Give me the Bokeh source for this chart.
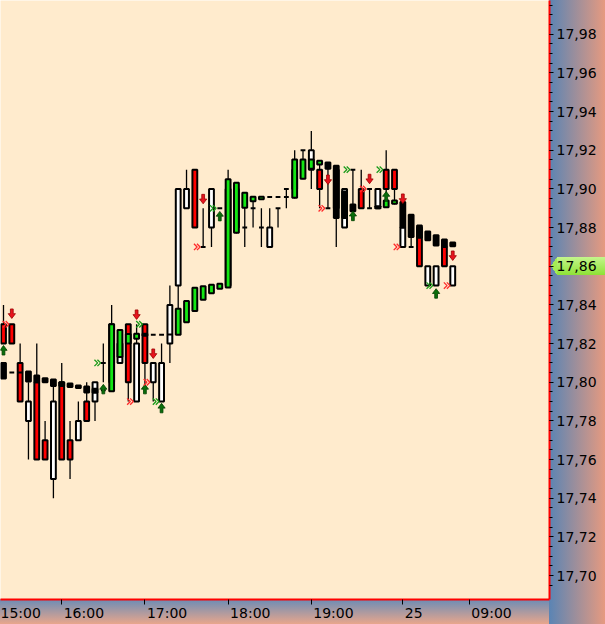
import numpy as np
from bokeh.plotting import figure
from bokeh.models import Range1d, FixedTicker, ColumnDataSource, LinearAxis
from bokeh.embed import file_html
from bokeh.resources import INLINE

# ---------------- data (6-minute bars, index 0 = 16:00) ----------------
bar_index = list(range(-7, 48))
candle_open = [17.83, 17.83, 17.81, 17.78, 17.80, 17.77, 17.75, 17.80, 17.77, 17.77,
               17.79, 17.79, 17.81, 17.80, 17.81, 17.83, 17.79, 17.83, 17.80, 17.79,
               17.82, 17.85, 17.89, 17.91, 17.87, 17.88, 17.89, 17.85, 17.88, 17.88,
               17.89, 17.88, 17.87, 17.89, 17.90, 17.90, 17.92, 17.91, 17.91, 17.89,
               17.91, 17.88, 17.91, 17.90, 17.90, 17.89, 17.91, 17.91, 17.87, 17.87,
               17.88, 17.85, 17.85, 17.87, 17.85]
candle_close = [17.82, 17.82, 17.79, 17.79, 17.76, 17.76, 17.79, 17.76, 17.76, 17.78,
                17.78, 17.80, 17.81, 17.83, 17.82, 17.80, 17.82, 17.81, 17.81, 17.81,
                17.84, 17.90, 17.90, 17.88, 17.87, 17.90, 17.89, 17.90, 17.90, 17.88,
                17.89, 17.88, 17.88, 17.89, 17.90, 17.91, 17.92, 17.92, 17.90, 17.89,
                17.89, 17.90, 17.91, 17.89, 17.90, 17.90, 17.90, 17.90, 17.88, 17.87,
                17.86, 17.86, 17.86, 17.86, 17.86]
wick_high = [17.84, 17.83, 17.82, 17.80, 17.82, 17.78, 17.798, 17.81, 17.78, 17.79,
             17.80, 17.80, 17.82, 17.84, 17.827, 17.83, 17.83, 17.83, 17.81, 17.82,
             17.85, 17.90, 17.91, 17.91, 17.89, 17.90, 17.89, 17.91, 17.903, 17.898,
             17.896, 17.89, 17.89, 17.89, 17.90, 17.92, 17.92, 17.93, 17.915, 17.914,
             17.912, 17.90, 17.91, 17.91, 17.90, 17.90, 17.92, 17.91, 17.893, 17.887,
             17.881, 17.86, 17.86, 17.87, 17.86]
wick_low = [17.82, 17.82, 17.79, 17.76, 17.76, 17.76, 17.74, 17.76, 17.75, 17.77,
            17.78, 17.78, 17.80, 17.795, 17.81, 17.79, 17.79, 17.799, 17.79, 17.79,
            17.81, 17.825, 17.89, 17.88, 17.87, 17.87, 17.89, 17.849, 17.877, 17.87,
            17.88, 17.87, 17.87, 17.88, 17.89, 17.895, 17.905, 17.90, 17.89, 17.89,
            17.87, 17.88, 17.889, 17.89, 17.89, 17.89, 17.891, 17.892, 17.87, 17.87,
            17.86, 17.85, 17.85, 17.86, 17.85]
ha_open = [17.8100, 17.8050, 17.8050, 17.8056, 17.8035, 17.8021, 17.8014, 17.8000, 17.7994, 17.7983,
           17.7978, 17.7966, 17.7958, 17.7954, 17.8130, 17.8200, 17.8225, 17.8240, 17.8246, 17.8246,
           17.8247, 17.8246, 17.8311, 17.8368, 17.8427, 17.8461, 17.8484, 17.8490, 17.8773, 17.8903,
           17.8937, 17.8947, 17.8958, 17.8958, 17.8958, 17.8954, 17.9053, 17.9104, 17.9127, 17.9137,
           17.9120, 17.8987, 17.8920, float("nan"), 17.8900, 17.8910, 17.8906, 17.8923, 17.8932, 17.8867,
           17.8811, 17.8780, 17.8760, 17.8739, 17.8723]
ha_close = [17.8019, 17.8050, 17.8050, 17.8004, 17.8000, 17.8000, 17.7980, 17.7980, 17.7975, 17.7970,
            17.7947, 17.7946, 17.7958, 17.8300, 17.8270, 17.8250, 17.8251, 17.8251, 17.8246, 17.8246,
            17.8247, 17.8380, 17.8420, 17.8489, 17.8496, 17.8504, 17.8510, 17.9050, 17.9032, 17.8980,
            17.8960, 17.8960, 17.8958, 17.8958, 17.8958, 17.9153, 17.9153, 17.9153, 17.9146, 17.9104,
            17.8850, 17.8850, 17.8885, float("nan"), 17.8900, 17.8900, 17.8940, 17.8940, 17.8800, 17.8751,
            17.8748, 17.8734, 17.8708, 17.8700, 17.8704]

sell_arrow_bar = [-6, 9, 11, 17, 32, 37, 41, 47]
sell_arrow_price = [17.833, 17.8325, 17.8123, 17.8923, 17.9023, 17.9027, 17.8925, 17.863]
buy_arrow_bar = [-7, 5, 10, 12, 19, 35, 39, 45]
buy_arrow_price = [17.819, 17.7989, 17.7989, 17.7891, 17.8884, 17.8885, 17.8987, 17.8484]

red_mark_x = [-6.69, 8.27, 10.26, 16.30, 31.28, 36.26, 40.31, 46.34]
red_mark_y = [17.83, 17.79, 17.80, 17.87, 17.89, 17.90, 17.87, 17.85]
green_mark_x = [4.34, 9.36, 11.36, 18.22, 34.30, 38.26, 44.26]
green_mark_y = [17.81, 17.83, 17.79, 17.89, 17.91, 17.91, 17.85]

x_tick_pos = [-10, 0, 10, 20, 30, 41, 49]
x_tick_labels = ["15:00", "16:00", "17:00", "18:00", "19:00", "25", "09:00"]
y_tick_values = [17.70, 17.72, 17.74, 17.76, 17.78, 17.80, 17.82, 17.84, 17.86,
                 17.88, 17.90, 17.92, 17.94, 17.96, 17.98]
last_price = 17.86

# ---------------- styling / geometry ----------------
BG = "#FFEBCD"
RED = "#FF0000"
LIME = "#14E614"
ARROW_RED = "#E8141E"
ARROW_GREEN = "#0A6E0A"
FONT = "DejaVu Sans"

W, H = 605, 624
RIGHT_W, BOTTOM_H = 56, 25
FRAME_W, FRAME_H = W - RIGHT_W, H - BOTTOM_H
x_lo, x_hi = -7.36, 58.63
y_lo, y_hi = 17.6876, 17.9975
PX_X = FRAME_W / (x_hi - x_lo)
PX_Y = FRAME_H / (y_hi - y_lo)

# last-price marker box position (pixels) derived from the price scale
mk_y = (y_hi - last_price) * PX_Y
mk_top = int(round(mk_y - 9))
marker_css = (
    f"linear-gradient(to bottom right, transparent 50%, #a4ec55 50%) {FRAME_W + 2}px {mk_top}px / 6px 9px no-repeat, "
    f"linear-gradient(to top right, transparent 50%, #a4ec55 50%) {FRAME_W + 2}px {mk_top + 9}px / 6px 9px no-repeat, "
    f"linear-gradient(to bottom, #c4f58c, #8ee236) {FRAME_W + 8}px {mk_top}px / {RIGHT_W}px 18px no-repeat, "
)

p = figure(width=W, height=H, x_range=Range1d(x_lo, x_hi), y_range=Range1d(y_lo, y_hi),
           y_axis_location="right", output_backend="svg", toolbar_location=None,
           min_border_left=0, min_border_top=0, min_border_right=RIGHT_W,
           min_border_bottom=BOTTOM_H, background_fill_color=BG,
           border_fill_alpha=0, outline_line_color=None)
p.styles = {"background": (
    marker_css
    + f"linear-gradient(to right, #5a84b4, #e69a80) right top / {RIGHT_W}px 100% no-repeat, "
    + f"linear-gradient(to bottom, #6a8cb6, #e8a68c) left bottom / 100% {BOTTOM_H}px no-repeat")}
p.xgrid.visible = False
p.ygrid.visible = False

# right price axis
ya = p.yaxis[0]
minor = [round(17.695 + 0.005 * k, 3) for k in range(62)]
ya.ticker = FixedTicker(ticks=y_tick_values, minor_ticks=minor)
ya.major_label_overrides = {v: f"{v:.2f}".replace(".", ",") for v in y_tick_values}
ya.major_label_text_font = FONT
ya.major_label_text_font_size = "14px"
ya.major_label_text_color = "black"
ya.major_label_standoff = 3
ya.major_tick_out = 4
ya.major_tick_in = 0
ya.minor_tick_out = 3
ya.minor_tick_in = 0
ya.major_tick_line_color = "black"
ya.minor_tick_line_color = "black"
ya.axis_line_color = "red"
ya.axis_line_width = 2

# bottom time axis: tick marks at the hours
xa = p.xaxis[0]
xa.ticker = FixedTicker(ticks=x_tick_pos, minor_ticks=[])
xa.major_label_overrides = {v: "" for v in x_tick_pos}
xa.major_label_text_font_size = "0px"
xa.major_label_standoff = 0
xa.major_tick_out = 5
xa.major_tick_in = 0
xa.major_tick_line_color = "black"
xa.axis_line_color = "red"
xa.axis_line_width = 2

# second bottom axis carrying the time labels, each starting just right of its tick
label_pos = []
for pos, lab in zip(x_tick_pos, x_tick_labels):
    text_w = sum(4.7 if ch == ":" else 8.9 for ch in lab)
    label_pos.append(round(pos + (text_w / 2 + 2) / PX_X, 4))
xl = LinearAxis(ticker=FixedTicker(ticks=label_pos, minor_ticks=[]),
                major_label_overrides={lp: lab for lp, lab in zip(label_pos, x_tick_labels)},
                major_label_text_font=FONT, major_label_text_font_size="14px",
                major_label_text_color="black", major_label_standoff=0,
                major_tick_out=0, major_tick_in=0, major_tick_line_color=None,
                axis_line_color=None)
p.add_layout(xl, "below")

# ---------------- candles ----------------
o = np.array(candle_open)
c = np.array(candle_close)
idx = np.array(bar_index, dtype=float)
candle_src = ColumnDataSource(dict(
    x=idx, top=np.maximum(o, c), bottom=np.minimum(o, c),
    hi=np.array(wick_high), lo=np.array(wick_low),
    fill=[RED if cc < oo else "white" for oo, cc in zip(o, c)]))

p.segment(x0="x", y0="lo", x1="x", y1="hi", source=candle_src, line_color="black",
          line_width=1.3)
BW = 0.58
p.vbar(x="x", top="top", bottom="bottom", width=BW, source=candle_src,
       fill_color="fill", line_color="black", line_width=2)

hao = np.array(ha_open)
hac = np.array(ha_close)
m = ~np.isnan(hao)
ha_src = ColumnDataSource(dict(
    x=idx[m], top=np.maximum(hao, hac)[m], bottom=np.minimum(hao, hac)[m],
    fill=[LIME if cc > oo else "black" for oo, cc in zip(hao[m], hac[m])]))
p.vbar(x="x", top="top", bottom="bottom", width=BW, source=ha_src,
       fill_color="fill", line_color="black", line_width=2)

# ---------------- signal arrows ----------------
shape = [(-1.4, 9.5), (1.4, 9.5), (1.4, 4.8), (3.6, 4.8), (0, 0), (-3.6, 4.8), (-1.4, 4.8)]


def arrows(bars, tips, sign):
    xs, ys = [], []
    for b, t in zip(bars, tips):
        xs.append([b + dx / PX_X for dx, dy in shape])
        ys.append([t + sign * dy / PX_Y for dx, dy in shape])
    return xs, ys


xs, ys = arrows(sell_arrow_bar, sell_arrow_price, 1)
p.patches(xs, ys, fill_color=ARROW_RED, line_color="#9A0000", line_width=0.8)
xs, ys = arrows(buy_arrow_bar, buy_arrow_price, -1)
p.patches(xs, ys, fill_color=ARROW_GREEN, line_color="#004000", line_width=0.8)

# ---------------- small double-chevron marks ----------------


def chevrons(xc, yc):
    xs, ys = [], []
    for x, y in zip(xc, yc):
        for off in (-1.8, 1.2):
            xs.append([x + (off - 1.6) / PX_X, x + (off + 1.6) / PX_X, x + (off - 1.6) / PX_X])
            ys.append([y + 3.2 / PX_Y, y, y - 3.2 / PX_Y])
    return xs, ys


xs, ys = chevrons(red_mark_x, red_mark_y)
p.multi_line(xs, ys, line_color="#FF2A2A", line_width=1.3)
xs, ys = chevrons(green_mark_x, green_mark_y)
p.multi_line(xs, ys, line_color="#189A18", line_width=1.3)

open("out.html", "w").write(file_html(p, INLINE))
